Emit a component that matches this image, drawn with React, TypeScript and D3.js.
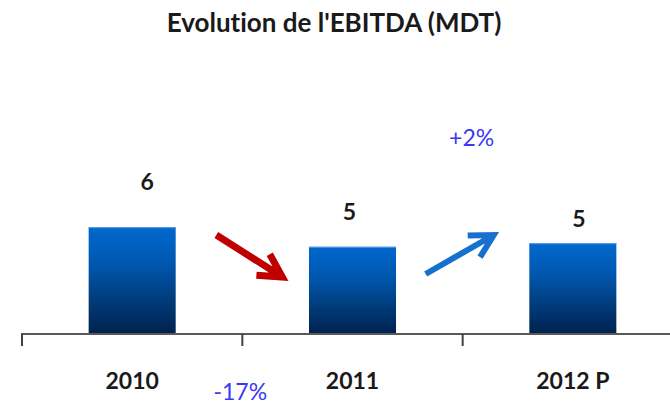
import React from "react";
import * as d3 from "d3";

const categories = ["2010", "2011", "2012 P"];
const values = [6.0, 4.9, 5.1];
const labelDx = [15, -3, 6];
const labelDy = [-37, -27, -16];
const changes = ["-17%", "+2%"];

const W = 670;
const H = 406;
const FONT = "Lato, 'Open Sans', sans-serif";

export default function App() {
  const x = d3.scaleBand<string>().domain(categories).range([22, 683]).padding(0);
  const y = d3.scaleLinear().domain([0, 10]).range([334, 156]);
  const barW = x.bandwidth() * 0.395;
  const base = y(0);
  const fmt = d3.format(".0f");

  const center = (c: string) => (x(c) as number) + x.bandwidth() / 2;
  const mid01 = (center(categories[0]) + center(categories[1])) / 2;
  const mid12 = (center(categories[1]) + center(categories[2])) / 2;

  const arrow = (x1: number, y1: number, x2: number, y2: number, color: string, sw: number) => {
    const ang = Math.atan2(y2 - y1, x2 - x1);
    const L = 26;
    const a1 = ang + Math.PI - 0.5;
    const a2 = ang + Math.PI + 0.5;
    const p = d3.path();
    p.moveTo(x1, y1);
    p.lineTo(x2, y2);
    p.moveTo(x2 + L * Math.cos(a1), y2 + L * Math.sin(a1));
    p.lineTo(x2, y2);
    p.lineTo(x2 + L * Math.cos(a2), y2 + L * Math.sin(a2));
    return (
      <path d={p.toString()} fill="none" stroke={color} strokeWidth={sw} strokeLinecap="butt" strokeLinejoin="miter" />
    );
  };

  const txt = { fontVariantLigatures: "none" as const };

  return (
    <svg width={W} height={H} style={{ position: "absolute", left: 0, top: 0, background: "#fff" }}>
      <defs>
        <linearGradient id="barGrad" x1="0" y1="0" x2="0" y2="1">
          <stop offset="0" stopColor="#0068CE" />
          <stop offset="0.35" stopColor="#0057AE" />
          <stop offset="0.7" stopColor="#003A78" />
          <stop offset="1" stopColor="#00214E" />
        </linearGradient>
      </defs>
      <text x={334} y={32} textAnchor="middle" fontFamily={FONT} fontWeight="bold" fontSize={26} fill="#1a1a1a" style={txt}>
        Evolution de l'EBITDA (MDT)
      </text>

      {categories.map((c, i) => {
        const cx = center(c);
        const top = y(values[i]);
        return (
          <g key={c}>
            <rect x={cx - barW / 2} y={top} width={barW} height={base - top} fill="url(#barGrad)" />
            <line x1={cx - barW / 2} x2={cx + barW / 2} y1={top + 0.5} y2={top + 0.5} stroke="#5a9be0" strokeWidth={1} />
            <text x={cx + labelDx[i]} y={top + labelDy[i]} textAnchor="middle" fontFamily={FONT} fontWeight="bold" fontSize={23} fill="#1a1a1a">
              {fmt(values[i])}
            </text>
            <text x={cx} y={389} textAnchor="middle" fontFamily={FONT} fontWeight="bold" fontSize={23} fill="#1a1a1a">
              {c}
            </text>
          </g>
        );
      })}

      <line x1={21} x2={W} y1={base} y2={base} stroke="#595959" strokeWidth={2} />
      {categories.map((c) => (
        <line key={"t" + c} x1={x(c) as number} x2={x(c) as number} y1={base} y2={346} stroke="#404040" strokeWidth={2} />
      ))}

      {arrow(mid01 - 26, 235, mid01 + 40, 277, "#C00000", 7)}
      {arrow(mid12 - 37, 274, mid12 + 31, 235, "#1570CF", 6)}

      <text x={mid01 - 2} y={400} textAnchor="middle" fontFamily={FONT} fontSize={23} fill="#3838F5">
        {changes[0]}
      </text>
      <text x={mid12 + 9} y={146} textAnchor="middle" fontFamily={FONT} fontSize={23} fill="#3838F5">
        {changes[1]}
      </text>
    </svg>
  );
}
